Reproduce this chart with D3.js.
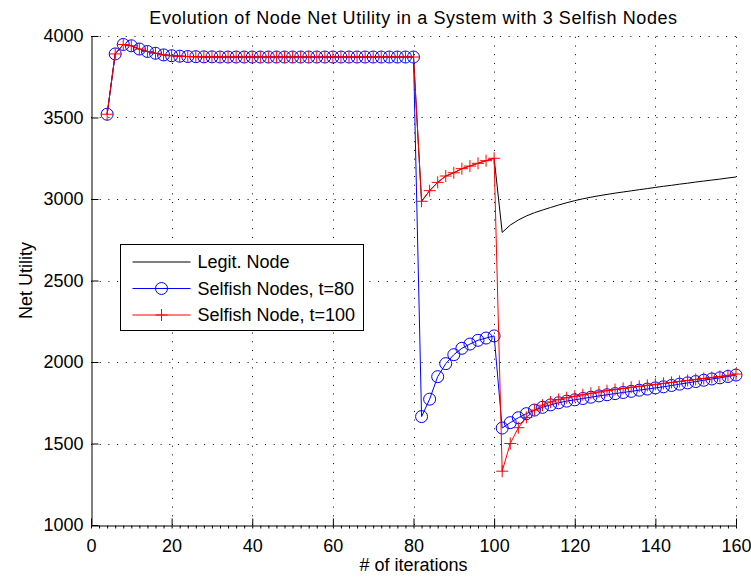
<!DOCTYPE html>
<html>
<head>
<meta charset="utf-8">
<script src="https://cdn.jsdelivr.net/npm/d3@7"></script>
<style>
  body { margin: 0; background: #fff; }
  svg text { font-family: "Liberation Sans", Arial, sans-serif; fill: #000; }
</style>
</head>
<body>
<script>
const W = 751, H = 577;
const MARGIN = {top: 36, right: 15, bottom: 52, left: 91};

const TITLE = 'Evolution of Node Net Utility in a System with 3 Selfish Nodes';
const X_LABEL = '# of iterations';
const Y_LABEL = 'Net Utility';

const xTicks = [0, 20, 40, 60, 80, 100, 120, 140, 160];
const yTicks = [1000, 1500, 2000, 2500, 3000, 3500, 4000];

const iterations = [
  4, 6, 8, 10, 12, 14, 16, 18, 20, 22, 24, 26, 28, 30, 32, 34, 36, 38, 40,
  42, 44, 46, 48, 50, 52, 54, 56, 58, 60, 62, 64, 66, 68, 70, 72, 74, 76, 78, 80,
  82, 84, 86, 88, 90, 92, 94, 96, 98, 100,
  102, 104, 106, 108, 110, 112, 114, 116, 118, 120, 122, 124, 126, 128, 130,
  132, 134, 136, 138, 140, 142, 144, 146, 148, 150, 152, 154, 156, 158, 160
];

// iterations 4..80 are shared by all three nodes
const legitNode = [
  3520, 3890, 3948, 3940, 3920, 3905, 3894, 3884, 3879, 3876, 3874, 3873, 3872, 3872, 3871, 3871, 3871, 3871, 3871,
  3871, 3871, 3871, 3871, 3871, 3871, 3871, 3871, 3871, 3871, 3871, 3871, 3871, 3871, 3871, 3871, 3871, 3871, 3871, 3871,
  2986, 3051, 3102, 3141, 3161, 3186, 3202, 3219, 3235, 3250,
  2795, 2840, 2871, 2896, 2916, 2932, 2948, 2963, 2977, 2990, 3001, 3011, 3020, 3028, 3036,
  3043, 3050, 3057, 3064, 3071, 3078, 3084, 3091, 3097, 3104, 3110, 3116, 3122, 3129, 3135
];

const selfish80 = [
  3520, 3890, 3948, 3940, 3920, 3905, 3894, 3884, 3879, 3876, 3874, 3873, 3872, 3872, 3871, 3871, 3871, 3871, 3871,
  3871, 3871, 3871, 3871, 3871, 3871, 3871, 3871, 3871, 3871, 3871, 3871, 3871, 3871, 3871, 3871, 3871, 3871, 3871, 3871,
  1665, 1772, 1910, 1990, 2045, 2084, 2110, 2133, 2147, 2160,
  1595, 1628, 1658, 1683, 1705, 1722, 1737, 1750, 1760, 1768, 1776, 1784, 1792, 1799, 1806,
  1813, 1820, 1827, 1834, 1841, 1848, 1856, 1864, 1872, 1880, 1888, 1896, 1903, 1911, 1920
];

const selfish100 = [
  3520, 3890, 3948, 3940, 3920, 3905, 3894, 3884, 3879, 3876, 3874, 3873, 3872, 3872, 3871, 3871, 3871, 3871, 3871,
  3871, 3871, 3871, 3871, 3871, 3871, 3871, 3871, 3871, 3871, 3871, 3871, 3871, 3871, 3871, 3871, 3871, 3871, 3871, 3871,
  2986, 3051, 3102, 3141, 3161, 3186, 3202, 3219, 3235, 3250,
  1330, 1500, 1597, 1660, 1705, 1735, 1755, 1770, 1781, 1790, 1799, 1808, 1816, 1824, 1831,
  1838, 1845, 1851, 1857, 1863, 1869, 1875, 1881, 1887, 1893, 1899, 1905, 1911, 1918, 1926
];

const SERIES = [
  {name: 'Legit. Node', values: legitNode, color: '#000000', marker: 'none'},
  {name: 'Selfish Nodes, t=80', values: selfish80, color: '#0000ff', marker: 'circle'},
  {name: 'Selfish Node, t=100', values: selfish100, color: '#ff0000', marker: 'plus'}
];

const FONT = '18px';

const svg = d3.select('body').append('svg')
  .attr('width', W)
  .attr('height', H);

const x = d3.scaleLinear().domain([0, 160]).range([MARGIN.left, W - MARGIN.right]);
const y = d3.scaleLinear().domain([1000, 4000]).range([H - MARGIN.bottom, MARGIN.top]);

// grid
const grid = svg.append('g')
  .attr('stroke', '#000')
  .attr('stroke-width', 1)
  .attr('stroke-dasharray', '1,7.7');

grid.selectAll('.vgrid')
  .data(xTicks.slice(1))
  .enter().append('line')
  .attr('x1', d => Math.round(x(d)) + 0.5)
  .attr('x2', d => Math.round(x(d)) + 0.5)
  .attr('y1', y(1000))
  .attr('y2', y(4000));

grid.selectAll('.hgrid')
  .data(yTicks.slice(1))
  .enter().append('line')
  .attr('y1', d => Math.round(y(d)) + 0.5)
  .attr('y2', d => Math.round(y(d)) + 0.5)
  .attr('x1', x(0))
  .attr('x2', x(160));

// axes
const xAxis = svg.append('g')
  .attr('transform', `translate(0, ${Math.round(y(1000)) + 0.5})`)
  .call(d3.axisBottom(x).tickValues(xTicks).tickFormat(d3.format('d'))
    .tickSizeInner(-7).tickSizeOuter(0).tickPadding(14));

const xMinor = svg.append('g')
  .attr('transform', `translate(0, ${Math.round(y(1000)) + 0.5})`)
  .call(d3.axisBottom(x).tickValues(d3.range(0, 161, 2)).tickSize(3).tickFormat(''));
xMinor.select('.domain').remove();

const yAxis = svg.append('g')
  .attr('transform', `translate(${Math.round(x(0)) + 0.5}, 0)`)
  .call(d3.axisLeft(y).tickValues(yTicks).tickFormat(d3.format('d'))
    .tickSizeInner(-7).tickSizeOuter(0).tickPadding(8));

[xAxis, yAxis, xMinor].forEach(a => {
  a.selectAll('path, line').attr('stroke', '#000');
  a.selectAll('text').style('font-size', FONT).attr('fill', '#000');
});

// lines
const line = d3.line()
  .x((d, i) => x(iterations[i]))
  .y(d => y(d));

SERIES.forEach(s => {
  svg.append('path')
    .datum(s.values)
    .attr('fill', 'none')
    .attr('stroke', s.color)
    .attr('stroke-width', 1)
    .attr('d', line);

  if (s.marker === 'circle') {
    svg.append('g').selectAll('circle')
      .data(s.values)
      .enter().append('circle')
      .attr('cx', (d, i) => x(iterations[i]))
      .attr('cy', d => y(d))
      .attr('r', 6)
      .attr('fill', 'none')
      .attr('stroke', s.color);
  } else if (s.marker === 'plus') {
    svg.append('g').selectAll('path')
      .data(s.values)
      .enter().append('path')
      .attr('d', (d, i) => {
        const cx = x(iterations[i]), cy = y(d);
        return `M${cx - 6},${cy}H${cx + 6}M${cx},${cy - 6}V${cy + 6}`;
      })
      .attr('fill', 'none')
      .attr('stroke', s.color);
  }
});

// title and labels
svg.append('text')
  .attr('x', (x(0) + x(160)) / 2)
  .attr('y', 24)
  .attr('text-anchor', 'middle')
  .style('font-size', FONT)
  .style('letter-spacing', '0.6px')
  .text(TITLE);

svg.append('text')
  .attr('x', (x(0) + x(160)) / 2)
  .attr('y', 571)
  .attr('text-anchor', 'middle')
  .style('font-size', FONT)
  .text(X_LABEL);

svg.append('text')
  .attr('transform', `translate(32, ${(y(1000) + y(4000)) / 2}) rotate(-90)`)
  .attr('text-anchor', 'middle')
  .style('font-size', FONT)
  .text(Y_LABEL);

// legend
const legend = svg.append('g').attr('transform', 'translate(120.5, 244.5)');

const legendBox = legend.append('rect')
  .attr('height', 86)
  .attr('fill', '#fff')
  .attr('stroke', '#000');

const item = legend.selectAll('.legend-item')
  .data(SERIES)
  .enter().append('g')
  .attr('class', 'legend-item')
  .attr('transform', (d, i) => `translate(0, ${17.5 + i * 26.5})`);

item.append('line')
  .attr('x1', 12)
  .attr('x2', 70)
  .attr('stroke', d => d.color);

item.filter(d => d.marker === 'circle').append('circle')
  .attr('cx', 41)
  .attr('r', 6)
  .attr('fill', 'none')
  .attr('stroke', d => d.color);

item.filter(d => d.marker === 'plus').append('path')
  .attr('d', 'M35,0H47M41,-6V6')
  .attr('stroke', d => d.color);

const legendText = item.append('text')
  .attr('x', 77)
  .attr('dy', '0.35em')
  .style('font-size', FONT)
  .text(d => d.name);

// box width follows the longest label
const maxText = d3.max(legendText.nodes(), n => n.getComputedTextLength());
legendBox.attr('width', Math.round(77 + maxText + 8));
</script>
</body>
</html>
